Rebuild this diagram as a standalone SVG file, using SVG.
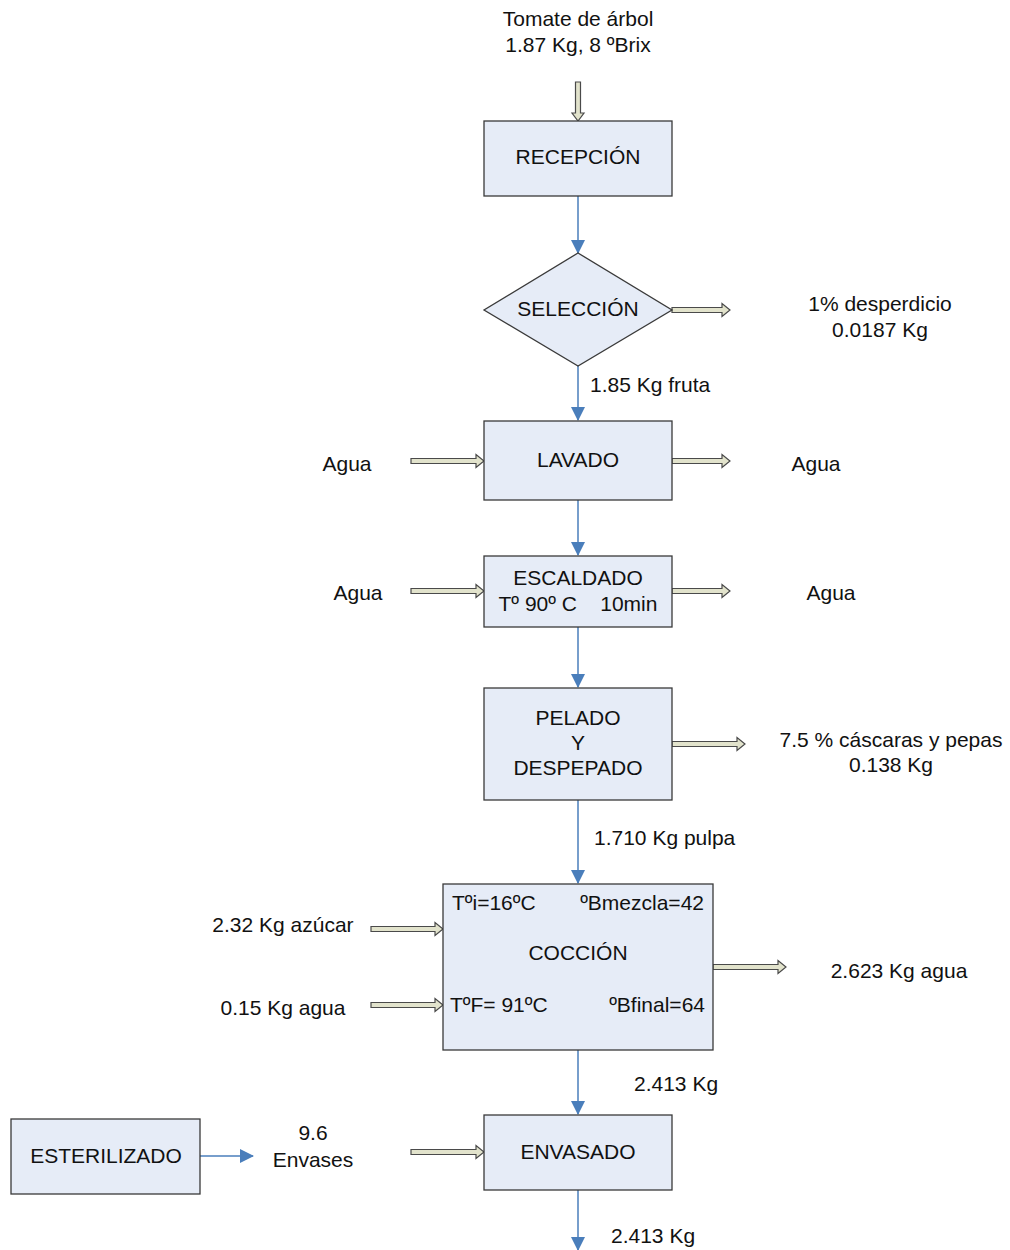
<svg xmlns="http://www.w3.org/2000/svg" width="1010" height="1250" viewBox="0 0 1010 1250">
<style>
text{font-family:"Liberation Sans",Arial,sans-serif;font-size:21px;fill:#111}
.c{text-anchor:middle}
.e{text-anchor:end}
.box{fill:#e6ecf7;stroke:#3a3a3a;stroke-width:1.3}
.ba{fill:#e2e3cc;stroke:#4a4a4a;stroke-width:1.2}
.ln{stroke:#4a7ebb;stroke-width:1.5;fill:none;marker-end:url(#ah)}
</style>
<defs>
<marker id="ah" markerWidth="14" markerHeight="14" refX="13" refY="7" orient="auto" markerUnits="userSpaceOnUse">
<path d="M0,0 L14,7 L0,14 Z" fill="#4a7ebb"/>
</marker>
</defs>
<rect width="1010" height="1250" fill="#fff"/>
<g id="connectors">
<line class="ln" x1="578" y1="196" x2="578" y2="253"/>
<line class="ln" x1="578" y1="366" x2="578" y2="420"/>
<line class="ln" x1="578" y1="500" x2="578" y2="555"/>
<line class="ln" x1="578" y1="627" x2="578" y2="687"/>
<line class="ln" x1="578" y1="800" x2="578" y2="883"/>
<line class="ln" x1="578" y1="1050" x2="578" y2="1114"/>
<line class="ln" x1="578" y1="1190" x2="578" y2="1250"/>
<line class="ln" x1="200" y1="1156" x2="253" y2="1156"/>
<path class="ba" d="M575.5,82 V113 H572 L578,121 L584,113 H580.5 V82 Z"/>
<path class="ba" d="M672,307.5 H722 V303.5 L730,310 L722,316.5 V312.5 H672 Z"/>
<path class="ba" d="M411,458.5 H476 V454.5 L484,461 L476,467.5 V463.5 H411 Z"/>
<path class="ba" d="M672,458.5 H722 V454.5 L730,461 L722,467.5 V463.5 H672 Z"/>
<path class="ba" d="M411,588.5 H476 V584.5 L484,591 L476,597.5 V593.5 H411 Z"/>
<path class="ba" d="M672,588.5 H722 V584.5 L730,591 L722,597.5 V593.5 H672 Z"/>
<path class="ba" d="M672,741.5 H737 V737.5 L745,744 L737,750.5 V746.5 H672 Z"/>
<path class="ba" d="M371,926.5 H435 V922.5 L443,929 L435,935.5 V931.5 H371 Z"/>
<path class="ba" d="M371,1002.5 H435 V998.5 L443,1005 L435,1011.5 V1007.5 H371 Z"/>
<path class="ba" d="M713,964.5 H778 V960.5 L786,967 L778,973.5 V969.5 H713 Z"/>
<path class="ba" d="M411,1149.5 H476 V1145.5 L484,1152 L476,1158.5 V1154.5 H411 Z"/>
</g>
<g id="input">
<text class="c" x="578" y="26">Tomate de árbol</text>
<text class="c" x="578" y="52">1.87 Kg, 8 ºBrix</text>
</g>
<g id="recepcion">
<rect class="box" x="484" y="121" width="188" height="75"/>
<text class="c" x="578" y="164">RECEPCIÓN</text>
</g>
<g id="seleccion">
<polygon class="box" points="578,253 672,310 578,366 484,310"/>
<text class="c" x="578" y="316">SELECCIÓN</text>
</g>
<g id="desperdicio">
<text class="c" x="880" y="311">1% desperdicio</text>
<text class="c" x="880" y="337">0.0187 Kg</text>
</g>
<text x="590" y="392">1.85 Kg fruta</text>
<g id="lavado">
<rect class="box" x="484" y="421" width="188" height="79"/>
<text class="c" x="578" y="467">LAVADO</text>
</g>
<text class="c" x="347" y="471">Agua</text>
<text class="c" x="816" y="471">Agua</text>
<g id="escaldado">
<rect class="box" x="484" y="556" width="188" height="71"/>
<text class="c" x="578" y="585">ESCALDADO</text>
<text class="c" x="578" y="611" xml:space="preserve">Tº 90º C    10min</text>
</g>
<text class="c" x="358" y="600">Agua</text>
<text class="c" x="831" y="600">Agua</text>
<g id="pelado">
<rect class="box" x="484" y="688" width="188" height="112"/>
<text class="c" x="578" y="725">PELADO</text>
<text class="c" x="578" y="750">Y</text>
<text class="c" x="578" y="775">DESPEPADO</text>
</g>
<g id="cascaras">
<text class="c" x="891" y="747">7.5 % cáscaras y pepas</text>
<text class="c" x="891" y="772">0.138 Kg</text>
</g>
<text x="594" y="845">1.710 Kg pulpa</text>
<g id="coccion">
<rect class="box" x="443" y="884" width="270" height="166"/>
<text x="452" y="910">Tºi=16ºC</text>
<text class="e" x="704" y="910">ºBmezcla=42</text>
<text class="c" x="578" y="960">COCCIÓN</text>
<text x="450" y="1012">TºF= 91ºC</text>
<text class="e" x="705" y="1012">ºBfinal=64</text>
</g>
<text class="c" x="283" y="932">2.32 Kg azúcar</text>
<text class="c" x="283" y="1015">0.15 Kg agua</text>
<text class="c" x="899" y="978">2.623 Kg agua</text>
<text x="634" y="1091">2.413 Kg</text>
<g id="envasado">
<rect class="box" x="484" y="1115" width="188" height="75"/>
<text class="c" x="578" y="1159">ENVASADO</text>
</g>
<g id="esterilizado">
<rect class="box" x="11" y="1119" width="189" height="75"/>
<text class="c" x="106" y="1163">ESTERILIZADO</text>
</g>
<text class="c" x="313" y="1140">9.6</text>
<text class="c" x="313" y="1167">Envases</text>
<text x="611" y="1243">2.413 Kg</text>
</svg>
